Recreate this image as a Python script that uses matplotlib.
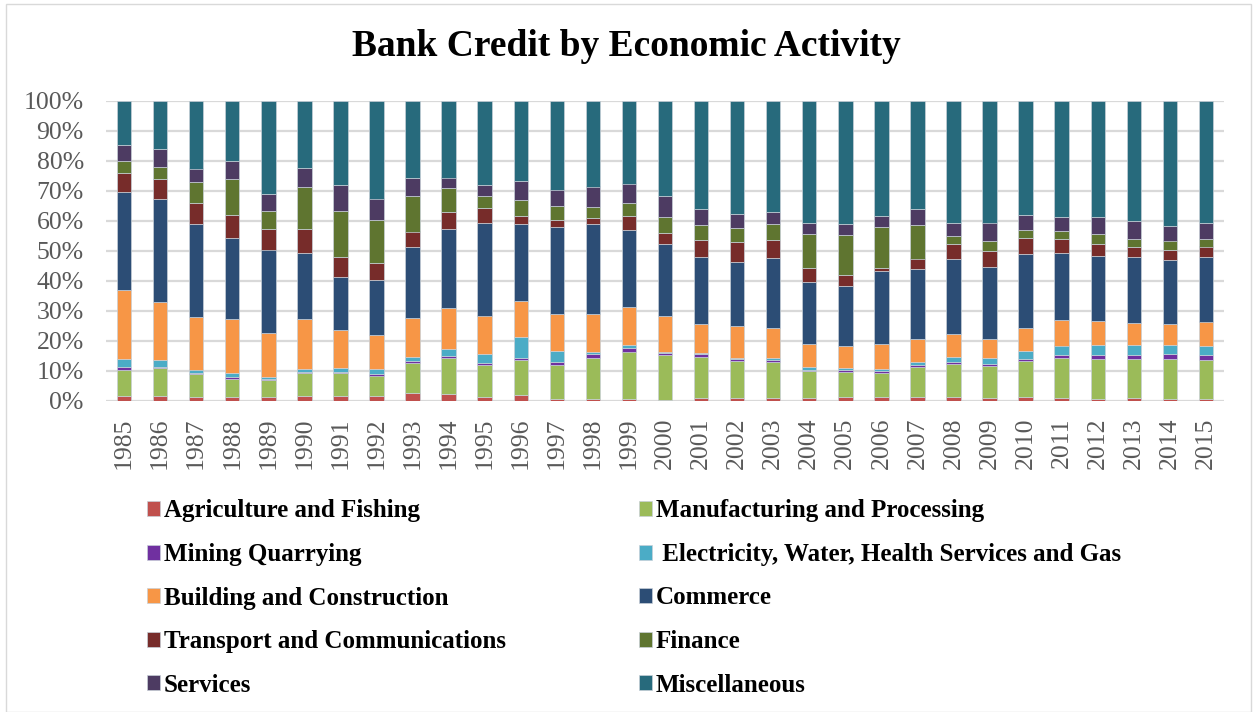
import matplotlib
matplotlib.use("Agg")
import matplotlib.pyplot as plt
import numpy as np
from matplotlib.patches import Rectangle
from matplotlib.ticker import PercentFormatter

years = [str(y) for y in range(1985, 2016)]

agriculture = [1.6, 1.6, 1.3, 1.1, 1.3, 1.7, 1.7, 1.7, 2.7, 2.3, 1.3, 1.8, 0.7, 0.6, 0.7, 0.4,
               1.0, 1.0, 1.0, 1.0, 1.3, 1.3, 1.3, 1.3, 1.0, 1.2, 0.9, 0.7, 0.9, 0.7, 0.7]
manufacturing = [8.8, 9.2, 7.5, 6.1, 5.6, 7.4, 7.4, 6.7, 9.9, 12.1, 10.7, 11.8, 11.2, 13.7, 15.7, 14.8,
                 13.9, 12.2, 12.0, 8.9, 8.4, 7.9, 9.9, 11.1, 10.7, 12.1, 13.5, 13.2, 13.0, 13.2, 13.0]
mining = [0.9, 0.5, 0.5, 0.6, 0.4, 0.5, 0.5, 0.6, 0.6, 0.6, 0.6, 0.6, 1.1, 1.3, 1.2, 0.7,
          0.8, 0.6, 0.6, 0.4, 0.4, 0.8, 0.6, 0.6, 0.5, 0.7, 0.9, 1.2, 1.4, 1.7, 1.5]
electricity = [2.5, 2.4, 1.1, 1.3, 0.7, 1.0, 1.2, 1.7, 1.5, 2.4, 3.1, 7.1, 3.6, 0.7, 1.0, 0.4,
               0.6, 0.4, 0.5, 0.9, 0.9, 0.7, 1.1, 1.6, 2.1, 2.7, 3.1, 3.6, 3.3, 3.0, 3.1]
building = [23.0, 19.1, 17.6, 18.2, 14.6, 16.5, 12.8, 11.2, 12.9, 13.5, 12.7, 12.0, 12.3, 12.6, 12.7, 12.0,
            9.6, 10.7, 10.0, 7.7, 7.4, 8.1, 7.8, 7.6, 6.3, 7.5, 8.6, 8.0, 7.3, 7.0, 8.1]
commerce = [32.8, 34.3, 30.8, 26.8, 27.8, 22.0, 17.5, 18.5, 23.5, 26.3, 30.8, 25.5, 28.9, 30.0, 25.7, 24.0,
            22.9, 21.2, 23.6, 20.8, 20.0, 24.3, 23.1, 24.9, 24.1, 24.6, 22.1, 21.4, 21.9, 21.2, 21.6]
transport = [6.4, 6.7, 7.0, 7.7, 6.7, 8.0, 6.7, 5.4, 5.3, 5.8, 5.1, 2.8, 2.3, 1.9, 4.6, 3.7,
             5.6, 6.9, 5.7, 4.4, 3.4, 1.3, 3.6, 5.2, 5.3, 5.5, 4.7, 4.0, 3.3, 3.5, 3.4]
finance = [3.9, 4.0, 7.0, 12.1, 6.2, 14.1, 15.4, 14.4, 12.0, 8.0, 3.9, 5.2, 4.7, 3.9, 4.2, 5.1,
           5.3, 4.6, 5.4, 11.3, 13.3, 13.6, 11.3, 2.6, 3.1, 2.6, 2.6, 3.3, 2.7, 3.1, 2.5]
services = [5.3, 6.0, 4.6, 6.0, 5.5, 6.5, 8.7, 7.2, 5.9, 3.4, 3.8, 6.3, 5.6, 6.7, 6.6, 7.2,
            5.4, 4.7, 4.0, 3.9, 3.7, 3.6, 5.2, 4.4, 6.3, 4.9, 4.8, 5.8, 6.0, 5.0, 5.4]
miscellaneous = [14.8, 16.2, 22.6, 20.1, 31.2, 22.3, 28.1, 32.6, 25.7, 25.6, 28.0, 26.9, 29.6, 28.6, 27.6, 31.7,
                 36.6, 37.7, 37.2, 40.7, 41.2, 38.4, 36.1, 40.7, 40.6, 38.2, 38.8, 38.8, 40.2, 41.6, 40.7]

series_names = ["Agriculture and Fishing", "Manufacturing and Processing", "Mining Quarrying",
                " Electricity, Water, Health Services and Gas", "Building and Construction", "Commerce",
                "Transport and Communications", "Finance", "Services", "Miscellaneous"]
series_values = [agriculture, manufacturing, mining, electricity, building, commerce,
                 transport, finance, services, miscellaneous]
colors = ["#C0504D", "#9BBB59", "#7030A0", "#4BACC6", "#F79646", "#2C4D75",
          "#772C2A", "#5F7530", "#4D3B62", "#276A7C"]

data = np.array(series_values, dtype=float)
data = data / data.sum(axis=0) * 100.0

fig = plt.figure(figsize=(12.53, 7.12), dpi=100)
fig.patches.append(Rectangle((6 / 1253, 0), 1245 / 1253, 1 - 4 / 712, transform=fig.transFigure,
                             fill=False, edgecolor="#d9d9d9", linewidth=1.0))
ax = fig.add_axes([106 / 1253, 1 - 400.7 / 712, 1118 / 1253, 300 / 712])

x = np.arange(len(years))
bottom = np.zeros(len(years))
handles = []
for name, vals, col in zip(series_names, data, colors):
    h = ax.bar(x, vals, bottom=bottom, width=0.4, color=col, edgecolor="#c8d0d8",
               linewidth=0.5, label=name, zorder=3)
    handles.append(h)
    bottom += vals

ax.set_xlim(-0.5, len(years) - 0.5)
ax.set_ylim(0, 100)
ax.set_yticks(np.arange(0, 101, 10))
ax.yaxis.set_major_formatter(PercentFormatter(decimals=0))
ax.set_xticks(x)
ax.set_xticklabels(years, rotation=90)
ax.grid(axis="y", color="#d9d9d9", linewidth=1.6, zorder=0)
ax.set_axisbelow(True)
for s in ax.spines.values():
    s.set_visible(False)
ax.tick_params(axis="both", length=0, labelcolor="#595959", labelsize=18.5)
ax.tick_params(axis="y", pad=16)
ax.tick_params(axis="x", pad=12)
for lab in ax.get_xticklabels() + ax.get_yticklabels():
    lab.set_fontfamily("Liberation Serif")

fig.text(0.5, 1 - 47 / 712, "Bank Credit by Economic Activity", ha="center", va="center",
         fontsize=27, fontweight="bold", family="Liberation Serif")

order = [0, 2, 4, 6, 8, 1, 3, 5, 7, 9]
leg = fig.legend([handles[i] for i in order], [series_names[i] for i in order],
                 loc="upper left", bbox_to_anchor=(124 / 1253, 1 - 477 / 712), ncol=2,
                 frameon=False, handlelength=0.55, handleheight=0.55, handletextpad=0.15,
                 columnspacing=5.3, labelspacing=0.82,
                 prop={"family": "Liberation Serif", "weight": "bold", "size": 18})

fig.savefig("out.png", dpi=100)
